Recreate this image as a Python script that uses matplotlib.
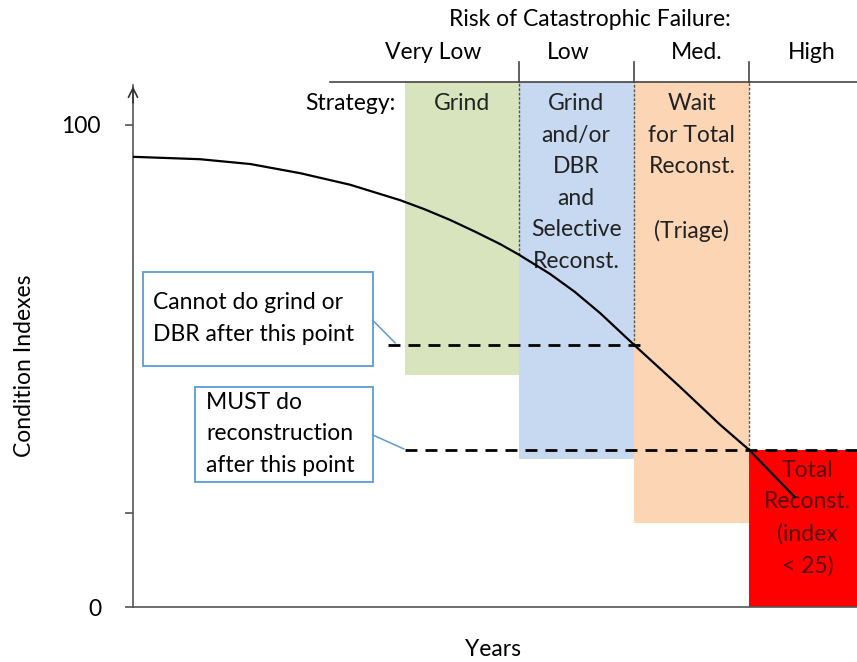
import numpy as np
import matplotlib
matplotlib.use("Agg")
import matplotlib.pyplot as plt
from matplotlib.patches import Rectangle

plt.rcParams.update({
    "font.family": ["Lato", "DejaVu Sans"],
    "font.size": 16.5,
})

# condition curve (x = years, arbitrary 0-100 scale; y = condition index)
curve_x = [0, 9.25, 16.2, 23.1, 30.0, 36.9, 40.3, 43.8, 47.2, 50.7, 53.3, 57.6, 61.0,
           64.5, 69.2, 75.6, 81.1, 85.1, 91.4]
curve_y = [93.4, 92.9, 91.9, 90.0, 87.6, 84.4, 82.5, 80.3, 77.9, 75.3, 73.1, 69.1, 65.4,
           61.0, 54.4, 45.6, 37.8, 32.6, 22.8]

# strategy zones
zone_left = [37.6, 53.3, 69.2, 85.1]
zone_right = [53.3, 69.2, 85.1, 100.0]
zone_top = [108.9, 108.9, 108.9, 32.6]
zone_bottom = [48.1, 30.7, 17.4, 0.0]
zone_colors = ["#d7e4bd", "#c6d9f1", "#fcd5b5", "#ff0000"]

risk_labels = ["Very Low", "Low", "Med.", "High"]
risk_x = [41.4, 60.1, 77.9, 93.8]

strategy_labels = ["Grind", "Grind\nand/or\nDBR\nand\nSelective\nReconst.",
                   "Wait\nfor Total\nReconst.\n\n(Triage)"]
strategy_x = [45.4, 61.2, 77.2]

# zone separators: x and where the curve meets them
sep_x = [53.3, 69.2, 85.1]
sep_curve_y = [73.1, 54.4, 32.6]

# threshold lines
grind_limit = 54.4
reconst_limit = 32.6

header_y = 108.9

fig = plt.figure(figsize=(8.57, 6.62), dpi=100)
ax = fig.add_axes([133 / 857, 55 / 662, 724 / 857, 607 / 662])
ax.set_xlim(0, 100)
ax.set_ylim(0, 125.93)

for l, r, t, b, c in zip(zone_left, zone_right, zone_top, zone_bottom, zone_colors):
    ax.add_patch(Rectangle((l, b), r - l, t - b, facecolor=c, edgecolor="none", zorder=1))

# header
ax.plot([27.2, 100], [header_y, header_y], color="#444444", lw=1.2, clip_on=False, zorder=3)
for sx, sy in zip(sep_x, sep_curve_y):
    ax.plot([sx, sx], [header_y, 113.1], color="#444444", lw=1.2, clip_on=False, zorder=3)
    ax.plot([sx, sx], [sy, header_y], color="#555555", lw=1.0,
            linestyle=(0, (2, 1.2)), zorder=2)

ax.text(63.1, 121.8, "Risk of Catastrophic Failure:", ha="center", va="center")
for lab, x in zip(risk_labels, risk_x):
    ax.text(x, 115.1, lab, ha="center", va="center")
ax.text(36.2, 104.4, "Strategy:", ha="right", va="center")
for lab, x in zip(strategy_labels, strategy_x):
    ax.text(x, 106.6, lab, ha="center", va="top", linespacing=1.62, color="#222222", zorder=4)
ax.text(93.2, 30.6, "Total\nReconst.\n(index\n< 25)", ha="center", va="top",
        linespacing=1.62, color="#5a0a0a", zorder=4)

# curve
ax.plot(curve_x, curve_y, color="black", lw=1.6, zorder=5)

# threshold dashed lines
dash = (0, (4.3, 2.9))
ax.plot([35.2, 70.7], [grind_limit, grind_limit], color="black", lw=2.0, linestyle=dash, zorder=4)
ax.plot([37.6, 100], [reconst_limit, reconst_limit], color="black", lw=2.0, linestyle=dash, zorder=4)

# callouts
box_color = "#5b9bd5"
ax.add_patch(Rectangle((1.4, 50.0), 31.7, 19.5, facecolor="white", edgecolor=box_color, lw=1.3, zorder=4))
ax.text(2.8, 59.8, "Cannot do grind or\nDBR after this point", ha="left", va="center",
        linespacing=1.62, zorder=5)
ax.plot([33.1, 36.2], [59.5, 54.8], color=box_color, lw=1.1, zorder=4)

ax.add_patch(Rectangle((8.6, 25.9), 24.5, 19.7, facecolor="white", edgecolor=box_color, lw=1.3, zorder=4))
ax.text(10.1, 35.9, "MUST do\nreconstruction\nafter this point", ha="left", va="center",
        linespacing=1.62, zorder=5)
ax.plot([33.1, 37.4], [35.7, 32.8], color=box_color, lw=1.1, zorder=4)

# axes
for s in ["top", "right"]:
    ax.spines[s].set_visible(False)
ax.spines["left"].set_bounds(0, 108.3)
ax.spines["left"].set_color("#555555")
ax.spines["bottom"].set_color("#555555")
ax.spines["left"].set_linewidth(1.2)
ax.spines["bottom"].set_linewidth(1.2)
ax.annotate("", xy=(0, 108.6), xytext=(0, 104), xycoords="data",
            arrowprops=dict(arrowstyle="->", lw=1.2, color="#333333"), annotation_clip=False)

ax.set_xticks([])
ax.set_yticks([0, 19.5, 100])
ax.set_yticklabels(["0", "", "100"])
ax.tick_params(axis="y", direction="out", length=6, width=1.2, color="#555555", pad=17)

fig.text(25 / 857, 1 - 366 / 662, "Condition Indexes", rotation=90, ha="center", va="center")
fig.text(493 / 857, 1 - 650 / 662, "Years", ha="center", va="center")

fig.savefig("out.png", dpi=100)
